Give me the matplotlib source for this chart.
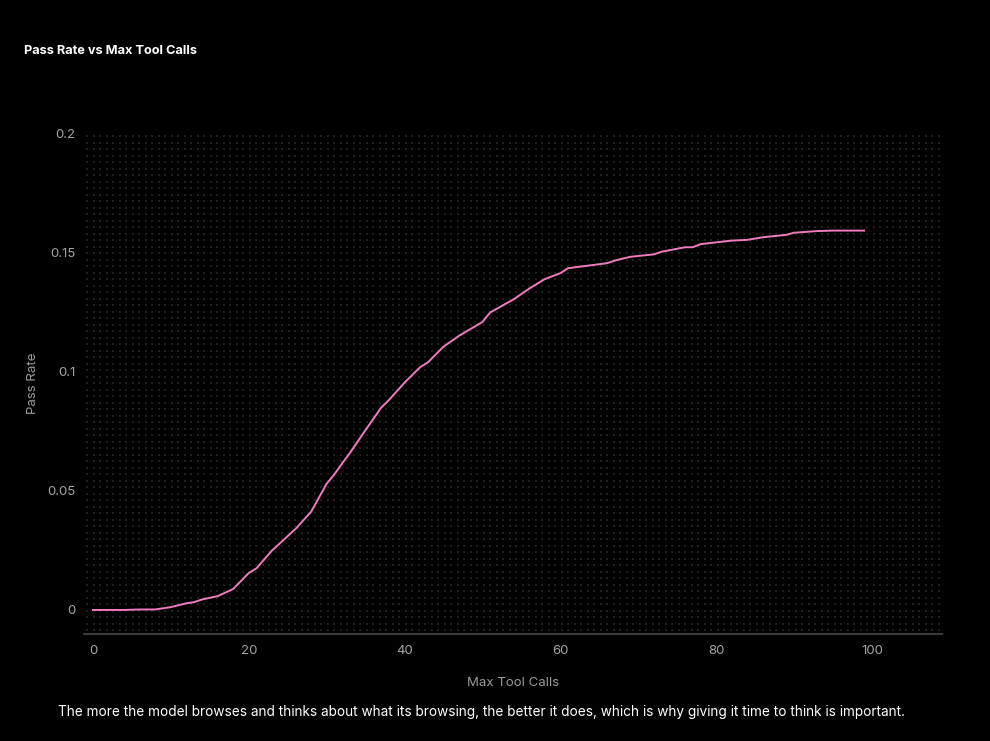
import numpy as np
import matplotlib
matplotlib.use("Agg")
import matplotlib.pyplot as plt

# values
max_tool_calls = [0, 2, 4, 6, 8, 10, 12, 13, 14, 16, 18, 20, 21, 23, 25, 26, 28, 30, 31,
                  32, 33, 35, 37, 38, 40, 42, 43, 45, 47, 50, 51, 54, 56, 58, 60, 61, 66,
                  67, 69, 72, 73, 76, 77, 78, 82, 84, 86, 89, 90, 93, 95, 99]
pass_rate = [0.0, 0.0, 0.0, 0.0002, 0.0002, 0.0012, 0.0028, 0.0033, 0.0044, 0.0058,
             0.0088, 0.0155, 0.0175, 0.0250, 0.0310, 0.0340, 0.0412, 0.0530, 0.0570,
             0.0616, 0.0660, 0.0756, 0.0850, 0.0882, 0.0955, 0.1020, 0.1040, 0.1106,
             0.1152, 0.1210, 0.1250, 0.1305, 0.1350, 0.1390, 0.1415, 0.1436, 0.1457,
             0.1468, 0.1484, 0.1494, 0.1505, 0.1524, 0.1524, 0.1537, 0.1552, 0.1555,
             0.1566, 0.1576, 0.1585, 0.1592, 0.1594, 0.1594]
x_ticks = [0, 20, 40, 60, 80, 100]
y_ticks = [0, 0.05, 0.1, 0.15, 0.2]
y_tick_labels = ["0", "0.05", "0.1", "0.15", "0.2"]

title = "Pass Rate vs Max Tool Calls"
caption = ("The more the model browses and thinks about what its browsing, the better it does, "
           "which is why giving it time to think is important.")

plt.rcParams['font.family'] = ['Inter', 'DejaVu Sans']

fig = plt.figure(figsize=(9.9, 7.41), dpi=100, facecolor='black')
ax = fig.add_axes([0.0848, 0.1444, 0.8667, 0.6761])
ax.set_facecolor('black')

xmin, xmax = -1.15, 109.0
ymin, ymax = -0.0101, 0.2004
ax.set_xlim(xmin, xmax)
ax.set_ylim(ymin, ymax)

# dotted background texture (~6.5 px spacing)
bbox = ax.get_window_extent()
step_x = (xmax - xmin) / bbox.width * 6.5
step_y = (ymax - ymin) / bbox.height * 6.5
gx, gy = np.meshgrid(np.arange(xmin + step_x / 2, xmax, step_x),
                     np.arange(ymax - step_y / 2, ymin, -step_y))
ax.scatter(gx.ravel(), gy.ravel(), s=0.9, marker='s', color='#202020', linewidths=0, zorder=0)

ax.plot(max_tool_calls, pass_rate, color='#f07cc0', lw=1.4, zorder=3)

for side in ['top', 'right', 'left']:
    ax.spines[side].set_visible(False)
ax.spines['bottom'].set_color('#3a3a3a')
ax.spines['bottom'].set_linewidth(1.5)

ax.set_xticks(x_ticks)
ax.set_yticks(y_ticks)
ax.set_yticklabels(y_tick_labels)
ax.tick_params(axis='both', length=0, colors='#aaa2a2', labelsize=9.5)
ax.tick_params(axis='x', pad=8)
ax.tick_params(axis='y', pad=6)

ax.set_xlabel("Max Tool Calls", color='#a09898', fontsize=9.5, labelpad=14)
ax.set_ylabel("Pass Rate", color='#a09898', fontsize=9.5)
ax.yaxis.set_label_coords((39 - 84) / bbox.width, 0.5)

fig.text(24 / 990, 1 - 51 / 741, title, color='white', fontsize=9.2, fontweight='bold',
         ha='left', va='center')
fig.text(482 / 990, 1 - 712 / 741, caption, color='white', fontsize=9.8,
         ha='center', va='center')

fig.savefig('out.png', dpi=100, facecolor='black')
